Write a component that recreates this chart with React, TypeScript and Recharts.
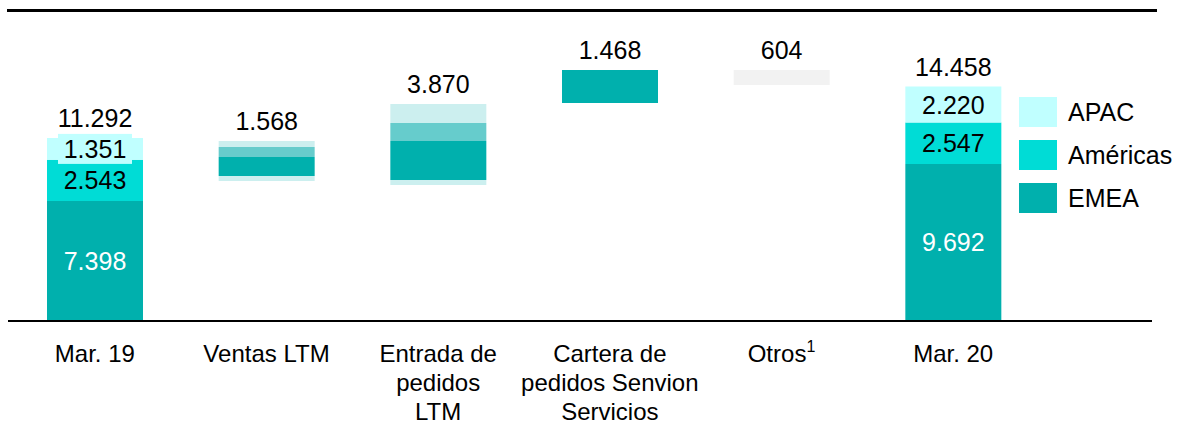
import React from 'react';
import { BarChart, Bar, XAxis, YAxis, Cell, LabelList } from 'recharts';

// categories and the values
const categories = ['Mar. 19', 'Ventas LTM', 'Entrada de\npedidos\nLTM', 'Cartera de\npedidos Senvion\nServicios', 'Otros¹', 'Mar. 20'];
const kinds = ['total', 'delta', 'delta', 'delta', 'other', 'total'];
const totals = [11292, 1568, 3870, 1468, 604, 14458];

// stacked pieces (floating bars sit on an invisible base)
const base = [0, 8640, 8390, 13450, 14560, 0];
const fadeLow = [0, 310, 310, 0, 0, 0];
const emea = [7398, 1170, 2405, 2035, 0, 9692];
const americas = [2543, 620, 1110, 0, 0, 2547];
const apac = [1351, 370, 1170, 0, 0, 2220];
const otros = [0, 0, 0, 0, 925, 0];

const legendItems = [
    { name: 'APAC', color: '#c0ffff' },
    { name: 'Américas', color: '#00dcd6' },
    { name: 'EMEA', color: '#00b0ad' },
];

const FONT = '"Liberation Sans", Arial, sans-serif';
const STACK_ORDER = ['fadeLow', 'emea', 'americas', 'apac', 'otros'];

const data = categories.map((name, i) => ({
    name,
    idx: i,
    kind: kinds[i],
    total: totals[i],
    base: base[i],
    fadeLow: fadeLow[i],
    emea: emea[i],
    americas: americas[i],
    apac: apac[i],
    otros: otros[i],
}));

// the last non-empty piece carries the total label
const topKey = data.map(d => {
    let k = '';
    STACK_ORDER.forEach(key => {
        if ((d as any)[key] > 0) k = key;
    });
    return k;
});

const fmt = (n: number) => String(n).replace(/\B(?=(\d{3})+(?!\d))/g, '.');

// zero-height bars are dropped from the label list, so find the row by position
const PLOT_LEFT = 9;
const BAND = 1030 / categories.length;
const rowOf = (props: any) => {
    if (props.payload && typeof props.payload.idx === 'number') return props.payload.idx;
    return Math.floor((props.x + props.width / 2 - PLOT_LEFT) / BAND);
};

const totalLabel = (key: string) => (props: any) => {
    const { x, y, width } = props;
    const i = rowOf(props);
    if (topKey[i] !== key) return null;
    return (
        <text x={x + width / 2} y={y - 11} textAnchor="middle" fontSize={25} fontFamily={FONT} fill="#000">
            {fmt(totals[i])}
        </text>
    );
};

const segLabel = (color: string, boxFill?: string) => (props: any) => {
    const { x, y, width, height, value } = props;
    const i = rowOf(props);
    if (kinds[i] !== 'total' || !value) return null;
    const cx = x + width / 2;
    const cy = y + height / 2;
    return (
        <g>
            {boxFill && <rect x={cx - 37} y={cy - 15} width={74} height={30} fill={boxFill} />}
            <text x={cx} y={cy + 9} textAnchor="middle" fontSize={25} fontFamily={FONT} fill={color}>
                {fmt(value)}
            </text>
        </g>
    );
};

const CategoryTick = (props: any) => {
    const { x, y, payload } = props;
    const lines = String(payload.value).split('\n');
    return (
        <text x={x} y={y + 39} textAnchor="middle" fontSize={24} fontFamily={FONT} fill="#000">
            {lines.map((line, i) => {
                if (line.endsWith('¹')) {
                    return (
                        <tspan key={i} x={x} dy={i === 0 ? 0 : 29}>
                            {line.slice(0, -1)}
                            <tspan fontSize={16} dy={-10}>1</tspan>
                        </tspan>
                    );
                }
                return (
                    <tspan key={i} x={x} dy={i === 0 ? 0 : 29}>{line}</tspan>
                );
            })}
        </text>
    );
};

const Legend = () => (
    <div style={{ position: 'absolute', left: 1019, top: 97, fontFamily: FONT, fontSize: 25 }}>
        {legendItems.map(item => (
            <div key={item.name} style={{ display: 'flex', alignItems: 'center', height: 30, marginBottom: 13 }}>
                <div style={{ width: 38, height: 30, background: item.color }} />
                <span style={{ marginLeft: 11, color: '#000' }}>{item.name}</span>
            </div>
        ))}
    </div>
);

export default function App() {
    return (
        <div style={{ position: 'absolute', left: 0, top: 0, width: 1182, height: 424, background: '#fff', overflow: 'hidden' }}>
            <div style={{ position: 'absolute', left: 7, top: 9, width: 1150, height: 3, background: '#000' }} />
            <BarChart
                width={1182}
                height={424}
                data={data}
                margin={{ top: 13, right: 30, bottom: 3, left: 8 }}
                barSize={96}
            >
                <XAxis
                    dataKey="name"
                    height={100}
                    interval={0}
                    tickLine={false}
                    tickSize={0}
                    axisLine={{ stroke: '#000', strokeWidth: 2 }}
                    padding={{ left: 1, right: 113 }}
                    tick={<CategoryTick />}
                />
                <YAxis hide domain={[0, 19000]} />
                <Bar dataKey="base" stackId="a" fill="transparent" isAnimationActive={false} />
                <Bar dataKey="fadeLow" stackId="a" fill="#ccefef" isAnimationActive={false}>
                    <LabelList dataKey="fadeLow" content={totalLabel('fadeLow')} />
                </Bar>
                <Bar dataKey="emea" stackId="a" fill="#00b0ad" isAnimationActive={false}>
                    <LabelList dataKey="emea" content={segLabel('#fff')} />
                    <LabelList dataKey="emea" content={totalLabel('emea')} />
                </Bar>
                <Bar dataKey="americas" stackId="a" isAnimationActive={false}>
                    {data.map((d, i) => (
                        <Cell key={i} fill={d.kind === 'total' ? '#00dcd6' : '#66cccc'} />
                    ))}
                    <LabelList dataKey="americas" content={segLabel('#000')} />
                    <LabelList dataKey="americas" content={totalLabel('americas')} />
                </Bar>
                <Bar dataKey="apac" stackId="a" isAnimationActive={false}>
                    {data.map((d, i) => (
                        <Cell key={i} fill={d.kind === 'total' ? '#c0ffff' : '#ccefef'} />
                    ))}
                    <LabelList dataKey="apac" content={segLabel('#000', '#c0ffff')} />
                    <LabelList dataKey="apac" content={totalLabel('apac')} />
                </Bar>
                <Bar dataKey="otros" stackId="a" fill="#f2f2f2" isAnimationActive={false}>
                    <LabelList dataKey="otros" content={totalLabel('otros')} />
                </Bar>
            </BarChart>
            <Legend />
        </div>
    );
}
